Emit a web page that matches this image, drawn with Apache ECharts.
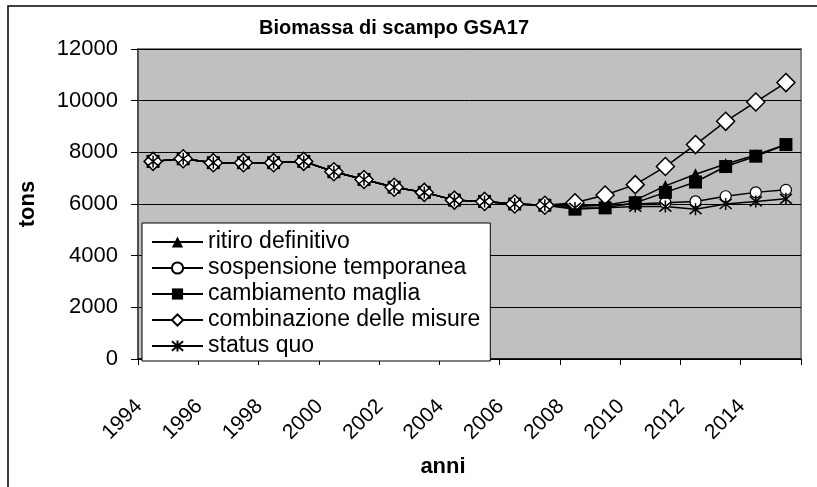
<!DOCTYPE html>
<html>
<head>
<meta charset="utf-8">
<script src="https://cdn.jsdelivr.net/npm/echarts@6/dist/echarts.min.js"></script>
<style>
  html, body { margin: 0; padding: 0; background: #fff; }
  #chart { width: 817px; height: 487px; }
</style>
</head>
<body>
<div id="chart"></div>
<script>
// anni 1994-2015
const years = ['1994', '1995', '1996', '1997', '1998', '1999', '2000', '2001', '2002', '2003', '2004',
  '2005', '2006', '2007', '2008', '2009', '2010', '2011', '2012', '2013', '2014', '2015']

// biomassa (tons)
const ritiroDefinitivo = [7650, 7750, 7600, 7600, 7600, 7650, 7250, 6950, 6650, 6450, 6150,
  6100, 6000, 5950, 5900, 5950, 6150, 6700, 7150, 7550, 7900, 8300]
const sospensioneTemporanea = [7650, 7750, 7600, 7600, 7600, 7650, 7250, 6950, 6650, 6450, 6150,
  6100, 6000, 5950, 5950, 5950, 6000, 6050, 6100, 6300, 6450, 6550]
const cambiamentoMaglia = [7650, 7750, 7600, 7600, 7600, 7650, 7250, 6950, 6650, 6450, 6150,
  6100, 6000, 5950, 5800, 5850, 6050, 6450, 6850, 7450, 7850, 8300]
const combinazioneMisure = [7650, 7750, 7600, 7600, 7600, 7650, 7250, 6950, 6650, 6450, 6150,
  6100, 6000, 5950, 6050, 6350, 6750, 7450, 8300, 9200, 9950, 10700]
const statusQuo = [7650, 7750, 7600, 7600, 7600, 7650, 7250, 6950, 6650, 6450, 6150,
  6100, 6000, 5950, 5850, 5850, 5900, 5900, 5800, 6000, 6100, 6200]

const FONT = "'Liberation Sans', Arial, sans-serif"
// asterisco (marker "status quo")
const asterisk = 'path://M0,-6L0,6M-5,-5L5,5M-5,5L5,-5'

const chart = echarts.init(document.getElementById('chart'))

const mkSeries = (name, data, symbol, size, fill, borderWidth) => ({
  name,
  type: 'line',
  data,
  symbol,
  symbolSize: size,
  showAllSymbol: true,
  lineStyle: { color: '#000', width: 1.5 },
  itemStyle: { color: fill, borderColor: '#000', borderWidth },
  emphasis: { disabled: true }
})

chart.setOption({
  animation: false,
  textStyle: { fontFamily: FONT },
  grid: {
    left: 138, right: 16, top: 49, bottom: 128,
    show: true,
    backgroundColor: '#c0c0c0',
    borderColor: '#808080',
    borderWidth: 2
  },
  graphic: [
    { type: 'rect', shape: { x: 8, y: 6, width: 830, height: 500 }, style: { fill: 'none', stroke: '#000', lineWidth: 1.5 }, z: -10 },
    { type: 'text', x: 394, y: 28, style: { text: 'Biomassa di scampo GSA17', font: 'bold 20px ' + FONT, fill: '#000', textAlign: 'center', textVerticalAlign: 'middle' } },
    { type: 'text', x: 28, y: 204, rotation: Math.PI / 2, style: { text: 'tons', font: 'bold 22px ' + FONT, fill: '#000', textAlign: 'center', textVerticalAlign: 'middle' } },
    { type: 'text', x: 443, y: 467, style: { text: 'anni', font: 'bold 22px ' + FONT, fill: '#000', textAlign: 'center', textVerticalAlign: 'middle' } }
  ],
  legend: {
    orient: 'vertical',
    left: 142,
    top: 223,
    padding: [6, 10, 2, 9],
    itemWidth: 51,
    itemHeight: 14,
    itemGap: 0,
    backgroundColor: '#fff',
    borderColor: '#000',
    borderWidth: 1,
    borderRadius: 0,
    selectedMode: false,
    textStyle: { fontSize: 23, color: '#000', fontFamily: FONT, lineHeight: 26 },
    data: ['ritiro definitivo', 'sospensione temporanea', 'cambiamento maglia', 'combinazione delle misure', 'status quo']
  },
  xAxis: {
    type: 'category',
    data: years,
    boundaryGap: true,
    axisLine: { lineStyle: { color: '#000', width: 1.5 } },
    axisTick: { show: true, length: 6, lineStyle: { color: '#000' } },
    axisLabel: { interval: 1, rotate: 45, fontSize: 21, color: '#000', margin: 30, padding: [0, 20, 0, 0], fontFamily: FONT },
    splitLine: { show: false }
  },
  yAxis: {
    type: 'value',
    min: 0,
    max: 12000,
    interval: 2000,
    axisLine: { show: true, lineStyle: { color: '#404040', width: 1.5 } },
    axisTick: { show: true, length: 7, lineStyle: { color: '#000' } },
    axisLabel: { fontSize: 22, color: '#000', margin: 20, fontFamily: FONT, formatter: v => String(v) },
    splitLine: { lineStyle: { color: '#000', width: 1 } }
  },
  series: [
    mkSeries('ritiro definitivo', ritiroDefinitivo, 'triangle', 12, '#000', 0),
    mkSeries('sospensione temporanea', sospensioneTemporanea, 'circle', 11, '#fff', 1.2),
    mkSeries('cambiamento maglia', cambiamentoMaglia, 'rect', 13, '#000', 0),
    mkSeries('combinazione delle misure', combinazioneMisure, 'diamond', 18, '#fff', 1.5),
    mkSeries('status quo', statusQuo, asterisk, 12, 'none', 1.5)
  ]
})
</script>
</body>
</html>
